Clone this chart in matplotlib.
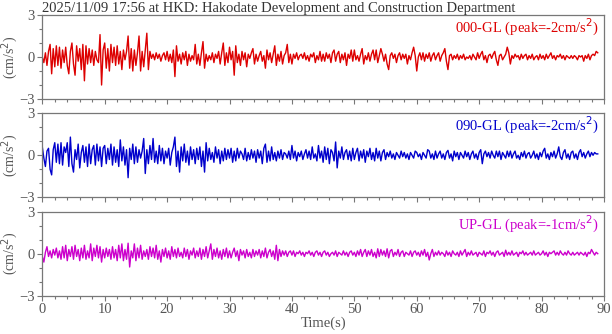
"""
 Three-component acceleration record (HKD station), one panel per component.
"""

import numpy as np
import matplotlib.pyplot as plt
from matplotlib.ticker import MultipleLocator

plt.rcParams['font.family'] = ['Liberation Serif', 'DejaVu Serif']

title = "2025/11/09 17:56 at HKD: Hakodate Development and Construction Department"
dt = 0.25  # sample spacing (s) used when reading the traces off the plot

# 000-GL, read every 0.25 s
ns = [0.0, -0.4, 0.3, -0.6, 0.4, 0.9, -1.2, 0.6, -0.7, 0.8, -0.6, 0.7, -0.8, 0.5, -0.4, 0.7, -0.6, -1.2, 0.4, 1.0,
      -0.5, -1.3, 0.8, -0.3, 0.6, -0.9, 0.9, -1.7, 0.8, -0.5, 0.6, -0.4, 0.5, -0.6, 0.4, -0.2, -0.4, 1.6, -2.0, 0.5,
      1.0, -0.8, 0.6, -1.0, 0.9, -0.4, 0.7, -0.6, 0.8, -0.5, 0.4, -0.9, 0.5, -0.2, 0.4, 1.5, -0.8, 0.6, -1.0, 0.5,
      -0.6, 0.3, 1.5, -1.0, 0.4, -0.7, 0.5, 1.7, -0.9, 0.4, -0.1, 0.2, -0.2, 0.3, -0.1, 0.2, -0.3, 0.1, 0.3, -0.2,
      0.4, -0.3, 0.2, -0.4, 0.5, -1.4, 0.8, -0.3, 0.2, -0.5, 0.3, -0.2, 0.4, -0.6, 0.2, -0.3, 0.1, -0.2, 0.9, -0.5,
      0.2, -0.6, 0.3, 1.1, -0.8, 0.2, -0.3, 0.1, -0.2, 0.3, -0.4, 0.2, -0.1, 0.4, -0.5, 0.3, 1.0, -0.6, 0.3, -0.4,
      0.7, -0.2, 0.4, -1.3, 0.8, -0.4, 0.2, -0.6, 0.4, -0.2, 0.3, -0.7, 0.2, -0.1, 0.3, 0.6, -0.5, 0.2, -0.3, 0.1,
      0.4, -0.3, 0.1, -0.8, 0.5, -0.2, 0.3, -0.4, 0.2, 0.8, -0.6, 0.2, -0.3, 0.4, -0.5, 0.1, 0.3, 0.9, -0.4, 0.2,
      -0.5, 0.2, -0.1, 0.3, -0.2, 0.1, 0.2, -0.1, 0.3, -0.2, 0.1, -0.3, 0.2, 0.0, 0.3, -0.4, 0.1, -0.2, 0.4, -0.3,
      0.2, -0.3, 0.3, -0.1, 0.2, -0.4, 0.3, 0.5, -0.3, 0.2, 0.4, -0.4, 0.2, -0.2, 0.3, -0.6, 0.2, -0.1, 0.5, -0.3,
      0.5, -0.2, 0.1, -0.3, 0.2, 0.6, -0.5, 0.1, -0.2, 0.3, -0.3, 0.2, 0.5, -0.2, 0.5, -0.4, 0.1, 0.6, 0.2, -0.3,
      0.2, -0.5, -0.9, 0.1, 0.3, -0.1, 0.2, -0.4, 0.1, 0.3, -0.2, 0.2, -0.1, 0.2, -0.5, 0.1, -0.2, 0.3, 0.7, 0.1,
      -1.0, 0.0, 0.3, -0.2, 0.3, -0.3, 0.2, -0.1, 0.3, -0.3, 0.1, 0.3, -0.2, 0.1, 0.3, -0.3, 0.1, 0.3, 0.6, -0.3,
      -0.9, 0.1, 0.2, -0.2, 0.1, -0.1, 0.2, -0.2, 0.1, -0.1, 0.2, -0.2, 0.0, -0.1, 0.1, -0.2, 0.2, 0.0, -0.2, 0.3,
      -0.1, 0.2, 0.4, -0.2, 0.1, -0.4, 0.1, 0.2, -0.1, 0.2, 0.4, -0.2, -0.6, 0.1, 0.2, -0.2, 0.0, 0.2, 0.7, 0.3,
      -0.5, 0.1, -0.1, 0.2, 0.0, 0.1, -0.2, 0.2, -0.1, 0.1, 0.2, -0.2, 0.1, -0.1, 0.2, -0.2, 0.0, 0.1, -0.2, 0.2,
      -0.1, 0.1, -0.2, 0.2, -0.1, 0.1, 0.3, -0.1, 0.1, -0.2, 0.1, 0.0, 0.2, -0.1, 0.1, -0.2, 0.1, 0.0, -0.1, 0.1,
      -0.1, 0.1, 0.0, -0.2, 0.1, 0.0, 0.1, -0.3, 0.1, -0.1, 0.2, -0.2, 0.1, 0.2, 0.1, 0.4, 0.3]

# 090-GL
ew = [0.6, -0.2, -0.8, 0.3, 0.5, -1.0, -1.4, 0.4, 0.9, -0.5, 0.8, -0.6, 0.9, -0.7, 0.6, 0.2, 0.9, -0.8, 1.3, -0.6,
      -1.2, 0.4, -0.3, 0.8, -0.9, 0.2, 0.7, -0.5, 0.6, -0.8, 0.8, -0.6, 0.4, 0.7, -0.7, 0.8, -0.4, 0.6, -0.8, 0.5,
      0.7, -0.6, 0.5, -0.3, 0.8, -0.7, 0.6, -0.5, 0.4, -0.8, 1.1, -0.4, 0.6, -0.7, 0.4, -1.6, 0.5, -0.3, 0.8, -0.6,
      0.6, -0.5, 0.4, -0.2, 0.3, 1.2, -1.3, 0.4, -0.6, 0.7, -0.3, 1.2, -0.5, 0.3, -0.6, 0.7, -0.4, 0.5, -0.6, 0.3,
      -0.2, 0.5, -0.7, 0.2, 0.6, 1.3, -0.8, 0.3, -1.2, 0.6, -0.4, 0.8, -0.5, 0.3, -0.7, 0.6, -0.3, 0.4, -0.6, 0.5,
      -0.3, 0.6, -0.8, 0.3, -1.2, 0.9, -0.4, 0.5, -0.3, 0.2, -0.5, 0.6, -0.2, 0.4, -0.6, 0.3, -0.4, 0.5, -0.3, 0.4,
      -0.2, 0.5, -0.5, 0.3, -0.4, 0.5, -0.2, 0.3, 0.1, -0.3, 0.5, -0.4, 0.2, -0.3, 0.4, -0.2, 0.3, -0.5, 0.4, -0.2,
      0.3, -0.6, 0.5, 0.8, -0.5, 0.3, -0.4, 0.6, -0.3, 0.2, -0.4, 0.3, -0.2, 0.4, -0.3, 0.2, 0.1, -0.2, 0.3, -0.3,
      0.7, -0.2, 0.3, -0.4, 0.2, -0.1, 0.3, -0.3, 0.1, 0.4, -0.2, 0.3, -0.3, 0.6, -0.2, 0.1, -0.4, 0.7, -0.2, 0.3,
      -0.5, 0.6, -0.3, 0.5, -0.6, 0.4, 0.2, -0.4, 0.95, -0.9, 0.3, -0.2, 0.6, -0.3, 0.2, 0.4, -0.3, 0.3, -0.4, 0.5,
      -0.3, 0.2, 0.5, -0.4, 0.3, -0.2, 0.4, -0.5, 0.3, -0.1, 0.5, -0.3, 0.2, -0.4, 0.5, -0.2, 0.3, -0.4, 0.2, 0.4,
      -0.3, 0.2, -0.1, 0.3, -0.2, 0.1, -0.3, 0.2, 0.0, -0.2, 0.3, -0.1, 0.2, -0.2, 0.1, -0.3, 0.2, 0.0, -0.2, 0.3,
      0.2, -0.1, 0.1, -0.3, 0.2, 0.0, -0.2, 0.4, 0.3, -0.2, 0.1, -0.3, 0.3, -0.2, 0.1, 0.3, -0.2, 0.1, -0.3, 0.2,
      0.35, -0.2, 0.1, -0.4, 0.3, -0.1, 0.2, -0.3, 0.2, 0.0, -0.2, 0.3, -0.1, 0.2, -0.3, 0.1, 0.3, -0.2, 0.1, -0.3,
      0.2, 0.4, -0.6, 0.1, 0.3, -0.1, 0.2, -0.2, 0.3, 0.0, -0.2, 0.3, -0.1, 0.3, -0.3, 0.2, 0.0, -0.2, 0.3, -0.1,
      0.3, -0.2, 0.1, 0.3, -0.2, 0.0, -0.3, 0.2, -0.1, 0.3, -0.2, 0.1, 0.2, -0.2, 0.0, 0.3, -0.2, 0.1, -0.3, 0.2,
      -0.1, 0.3, 0.5, -0.2, 0.1, -0.3, 0.2, -0.1, 0.3, -0.2, 0.1, 0.6, -0.1, -0.3, 0.2, 0.4, -0.2, 0.1, -0.3, 0.2,
      0.3, -0.2, 0.1, -0.3, 0.2, 0.4, -0.1, 0.2, -0.2, 0.1, 0.3, -0.1, 0.2, 0.0, 0.2, 0.1, 0.1]

# UP-GL
ud = [-0.2, -0.6, 0.1, 0.5, -0.2, 0.2, -0.3, 0.3, -0.1, 0.4, -0.3, 0.2, -0.4, 0.5, -0.3, 0.6, -0.5, 0.3, -0.2, 0.5,
      -0.4, 0.6, -0.2, 0.3, -0.5, 0.4, -0.3, 0.6, -0.4, 0.2, -0.3, 0.7, -0.5, 0.4, -0.2, 0.6, -0.3, 0.5, -0.6, 0.3,
      -0.3, 0.4, -0.2, 0.3, -0.4, 0.5, -0.3, 0.3, -0.5, 0.6, -0.3, 0.7, -0.5, 0.3, -0.4, 0.75, -0.95, 0.2, -0.3, 0.7,
      -0.5, 0.4, -0.3, 0.6, -0.4, 0.2, -0.2, 0.3, -0.4, 0.5, -0.2, 0.4, -0.3, 0.6, -0.4, 0.2, -0.6, 0.3, -0.2, 0.4,
      -0.3, 0.2, -0.4, 0.5, -0.2, 0.3, -0.3, 0.4, -0.2, 0.1, -0.3, 0.4, -0.2, 0.3, -0.4, 0.2, -0.1, 0.4, -0.3, 0.2,
      -0.2, 0.4, -0.4, 0.3, -0.2, 0.5, -0.3, 0.2, 0.7, -0.4, 0.3, -0.2, 0.4, -0.3, 0.2, -0.4, 0.3, -0.2, 0.4, -0.3,
      0.2, -0.3, 0.1, 0.4, -0.2, 0.2, -0.5, 0.3, -0.1, 0.2, -0.3, 0.3, -0.2, 0.1, -0.3, 0.3, -0.2, 0.2, -0.1, 0.3,
      -0.3, 0.2, -0.2, 0.4, -0.3, 0.1, 0.3, -0.2, 0.2, -0.4, 0.6, -0.5, 0.3, -0.2, 0.2, -0.1, 0.2, -0.2, 0.1, 0.2,
      -0.1, 0.2, -0.2, 0.1, 0.0, 0.2, -0.1, 0.1, -0.2, 0.1, 0.0, 0.2, -0.1, 0.1, -0.2, 0.1, 0.2, -0.1, 0.1, -0.2,
      0.1, 0.2, -0.1, 0.1, -0.2, 0.0, 0.1, -0.1, 0.2, -0.2, 0.1, 0.0, -0.1, 0.2, -0.1, 0.1, -0.2, 0.1, 0.2, -0.1,
      0.1, -0.2, 0.2, -0.1, 0.3, -0.2, 0.1, 0.3, -0.2, 0.2, -0.1, 0.3, -0.2, 0.1, -0.3, 0.35, -0.2, 0.3, -0.1, 0.2,
      -0.2, 0.35, -0.3, 0.2, 0.3, -0.2, 0.1, -0.1, 0.3, -0.2, 0.1, 0.2, -0.2, 0.1, 0.0, -0.1, 0.2, -0.2, 0.1, 0.2,
      -0.1, 0.1, -0.2, 0.2, -0.1, 0.3, -0.2, 0.1, -0.45, 0.0, 0.3, -0.2, 0.1, -0.1, 0.2, -0.1, 0.1, 0.0, -0.2, 0.2,
      -0.1, 0.1, -0.2, 0.2, 0.0, -0.1, 0.1, -0.2, 0.2, -0.1, 0.1, 0.3, -0.2, 0.1, -0.1, 0.2, -0.1, 0.0, 0.1, -0.2,
      0.1, 0.0, -0.1, 0.2, -0.2, 0.1, 0.0, 0.2, -0.1, 0.1, -0.2, 0.1, 0.2, -0.1, 0.0, 0.1, -0.2, 0.25, -0.1, 0.1,
      -0.1, 0.2, -0.1, 0.0, 0.1, -0.2, 0.1, 0.0, 0.2, -0.1, 0.1, -0.1, 0.0, 0.1, -0.1, 0.2, -0.1, 0.0, 0.1, -0.1,
      0.0, 0.2, -0.1, 0.1, -0.2, 0.1, 0.0, 0.1, 0.2, -0.1, 0.1, -0.1, 0.2, 0.0, -0.1, 0.1, -0.1, 0.2, 0.0, -0.1,
      0.1, -0.1, 0.0, 0.1, -0.1, 0.1, 0.0, -0.1, 0.1, -0.2, 0.1, 0.0, 0.3, 0.1, -0.1, 0.1, 0.0]

components = ["000-GL", "090-GL", "UP-GL"]
peaks = [-2, -2, -1]
colors = ['#dd0000', '#0000cc', '#cc00cc']
traces = [ns, ew, ud]

xticks = [0, 10, 20, 30, 40, 50, 60, 70, 80, 90]
yticks = [-3, 0, 3]

gray = '#777777'
txt = '#555555'
fs = 10.5

fig = plt.figure(figsize=(6.12, 3.34), dpi=100)
# panel positions (left, bottom, width, height) in figure fraction
left, width, height = 0.0691, 0.9178, 0.2515
bottoms = [0.7036, 0.4093, 0.1147]

for i, (comp, pk, col, tr) in enumerate(zip(components, peaks, colors, traces)):
    ax = fig.add_axes([left, bottoms[i], width, height])
    t = np.arange(len(tr)) * dt
    ax.plot(t, tr, color=col, lw=1.0)
    ax.set_xlim(0, 90)
    ax.set_ylim(-3, 3)
    ax.set_xticks(xticks)
    ax.xaxis.set_minor_locator(MultipleLocator(2))
    ax.set_yticks(yticks)
    ax.yaxis.set_minor_locator(MultipleLocator(1))
    for s in ax.spines.values():
        s.set_color(gray)
        s.set_linewidth(0.9)
    ax.tick_params(which='major', direction='out', length=3.6, width=0.8, color=gray,
                   labelcolor=txt, labelsize=fs, pad=2)
    ax.tick_params(which='minor', direction='out', length=2.2, width=0.8, color=gray)
    ax.set_ylabel('(cm/s$^2$)', color=txt, fontsize=10)
    ax.yaxis.set_label_coords(-0.039, 0.5)
    if i < 2:
        ax.tick_params(axis='x', labelbottom=False)
    ax.text(0.99, 0.975, '%s (peak=%dcm/s$^2$)' % (comp, pk), color=col, fontsize=fs,
            ha='right', va='top', transform=ax.transAxes)
    if i == 0:
        ax.set_title(title, loc='left', fontsize=fs, color='#333333', pad=1)
    if i == 2:
        ax.set_xlabel('Time(s)', color=txt, fontsize=fs, labelpad=0)

assert len(ns) == 357 and len(ew) == 357 and len(ud) == 357, (len(ns), len(ew), len(ud))

plt.savefig('out.png', dpi=100)
